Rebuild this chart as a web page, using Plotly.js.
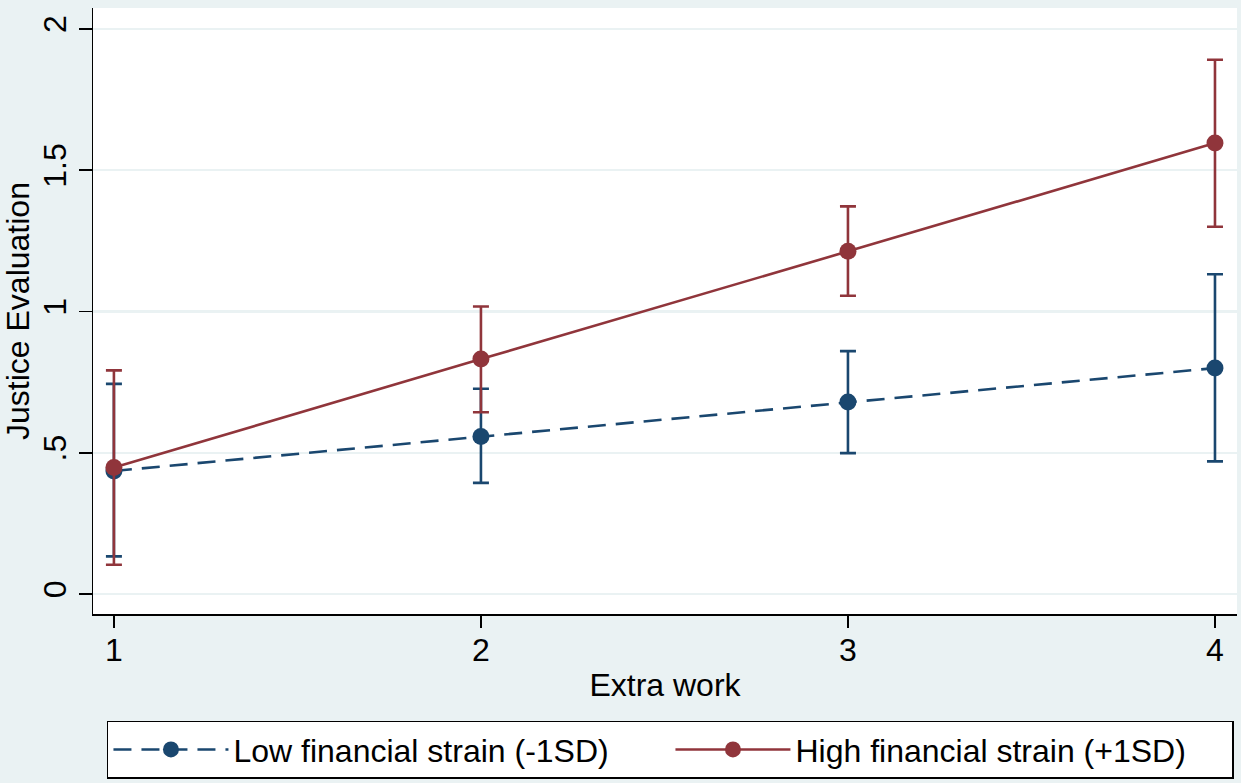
<!DOCTYPE html>
<html>
<head>
<meta charset="utf-8">
<script src="https://cdn.plot.ly/plotly-3.0.1.min.js"></script>
<style>html,body{margin:0;padding:0;background:#EAF2F3;}#chart{width:1241px;height:783px;}</style>
</head>
<body>
<div id="chart"></div>
<script>
var extraWork = [1, 2, 3, 4];
var lowName = "Low financial strain (-1SD)";
var highName = "High financial strain (+1SD)";
var lowMean = [0.436, 0.558, 0.680, 0.800];
var lowUpper = [0.744, 0.727, 0.860, 1.132];
var lowLower = [0.134, 0.394, 0.499, 0.470];
var highMean = [0.448, 0.832, 1.213, 1.596];
var highUpper = [0.792, 1.018, 1.372, 1.891];
var highLower = [0.104, 0.644, 1.056, 1.300];
var yTickVals = [0, 0.5, 1, 1.5, 2];
var yTickText = ["0", ".5", "1", "1.5", "2"];
var xTickVals = [1, 2, 3, 4];

var navy = "#1A476F", maroon = "#90353B";
function diff(a, b) { return a.map(function (v, i) { return v - b[i]; }); }

var traces = [
  {
    x: extraWork, y: lowMean, name: lowName, type: "scatter", mode: "lines+markers",
    line: {color: navy, width: 2.6, dash: "18px,10px"},
    marker: {color: navy, size: 17},
    error_y: {type: "data", symmetric: false, array: diff(lowUpper, lowMean), arrayminus: diff(lowMean, lowLower),
      color: navy, thickness: 2.6, width: 8}
  },
  {
    x: extraWork, y: highMean, name: highName, type: "scatter", mode: "lines+markers",
    line: {color: maroon, width: 2.6},
    marker: {color: maroon, size: 17},
    error_y: {type: "data", symmetric: false, array: diff(highUpper, highMean), arrayminus: diff(highMean, highLower),
      color: maroon, thickness: 2.6, width: 8}
  }
];

var layout = {
  width: 1241, height: 783,
  paper_bgcolor: "#EAF2F3", plot_bgcolor: "#FFFFFF",
  margin: {l: 93, r: 4, t: 8, b: 165},
  font: {family: "Liberation Sans, Arial, sans-serif", size: 32, color: "#000"},
  showlegend: true,
  xaxis: {
    range: [0.943, 4.06], tickvals: xTickVals, ticks: "outside", ticklen: 12, tickwidth: 1.5, tickcolor: "#000",
    showline: true, linecolor: "#000", linewidth: 1.5, showgrid: false, zeroline: false,
    ticklabelstandoff: -5,
    title: {text: "Extra work", standoff: 6, font: {size: 32}}, tickfont: {size: 32}
  },
  yaxis: {
    range: [-0.070, 2.074], tickvals: yTickVals, ticktext: yTickText, tickangle: -90,
    ticks: "outside", ticklen: 13, tickwidth: 1.5, tickcolor: "#000",
    showline: true, linecolor: "#000", linewidth: 1.5,
    showgrid: true, gridcolor: "#EAF2F3", gridwidth: 2.5, zeroline: false,
    title: {text: "Justice Evaluation", standoff: 2, font: {size: 32}}, tickfont: {size: 32}
  },
  legend: {
    orientation: "h", x: 0.0122, xanchor: "left", y: -0.176, yanchor: "top",
    bgcolor: "#FFFFFF", bordercolor: "#000", borderwidth: 1.5,
    font: {size: 32}, itemwidth: 115, entrywidth: 432, tracegroupgap: 0
  }
};

Plotly.newPlot("chart", traces, layout, {displayModeBar: false, staticPlot: true});
</script>
</body>
</html>
